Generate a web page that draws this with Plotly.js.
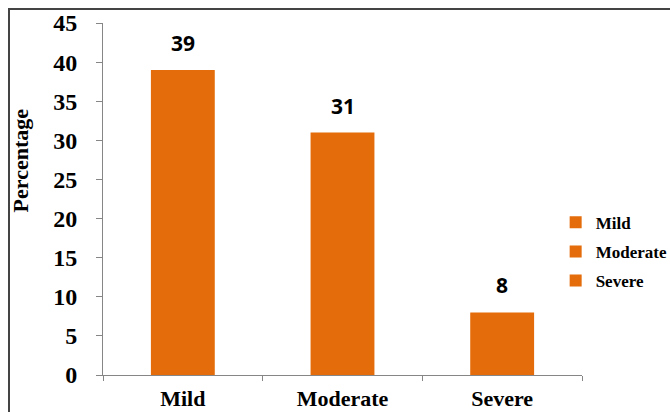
<!DOCTYPE html>
<html>
<head>
<meta charset="utf-8">
<script src="https://cdn.plot.ly/plotly-3.0.1.min.js"></script>
<style>
  html, body { margin: 0; padding: 0; background: #fff; }
  #wrap { position: relative; width: 670px; height: 412px; overflow: hidden; }
  #chart { position: absolute; left: 0; top: 0; width: 670px; height: 412px; }
  #frame { position: absolute; left: 8px; top: 8px; width: 700px; height: 450px;
           border-top: 2px solid #444; border-left: 2px solid #444; pointer-events: none; }
</style>
</head>
<body>
<div id="wrap">
  <div id="chart"></div>
  <div id="frame"></div>
</div>
<script>
const categories = ["Mild", "Moderate", "Severe"];
const values = [39, 31, 8];
const yTicks = [0, 5, 10, 15, 20, 25, 30, 35, 40, 45];
const yTitle = "Percentage";

const barColor = "#E46C0A";
const serif = "Liberation Serif, Times New Roman, serif";

const traces = categories.map((c, i) => ({
  type: "bar",
  x: [c],
  y: [values[i]],
  name: c,
  legendgroup: "g" + i,
  width: 0.4,
  marker: { color: barColor },
  hoverinfo: "none"
}));

const annotations = categories.map((c, i) => ({
  x: c, y: values[i], xref: "x", yref: "y",
  text: String(values[i]),
  showarrow: false, yanchor: "bottom", yshift: 11,
  font: { family: "Open Sans, sans-serif", size: 21, color: "#000", weight: "bold" }
}));
annotations.push({
  xref: "paper", yref: "paper", x: -0.173, y: 0.61,
  xanchor: "center", yanchor: "middle", textangle: -90,
  text: "<b>" + yTitle + "</b>", showarrow: false,
  font: { family: serif, size: 22, color: "#000" }
});

const layout = {
  width: 670, height: 412,
  margin: { l: 103, r: 88, t: 23, b: 37, autoexpand: false },
  paper_bgcolor: "#fff", plot_bgcolor: "#fff",
  barmode: "overlay",
  showlegend: true,
  legend: {
    x: 0.945, xanchor: "left", y: 0.35, yanchor: "middle",
    traceorder: "grouped", tracegroupgap: 4, itemwidth: 30,
    font: { family: serif, size: 17, color: "#000", weight: "bold" },
    bgcolor: "rgba(0,0,0,0)"
  },
  xaxis: {
    type: "category",
    categoryorder: "array", categoryarray: categories,
    showline: true, linecolor: "#868686", linewidth: 1,
    ticks: "outside", tickson: "boundaries", ticklen: 5, tickcolor: "#868686",
    ticklabelstandoff: 4,
    tickfont: { family: serif, size: 22, color: "#000", weight: "bold" },
    showgrid: false, zeroline: false, fixedrange: true
  },
  yaxis: {
    range: [0, 45],
    tickvals: yTicks, ticktext: yTicks.map(String),
    showline: true, linecolor: "#868686", linewidth: 1,
    ticks: "outside", ticklen: 6, tickcolor: "#868686",
    ticklabelstandoff: 14,
    tickfont: { family: serif, size: 24, color: "#000", weight: "bold" },
    showgrid: false, zeroline: false, fixedrange: true
  },
  annotations: annotations
};

Plotly.newPlot("chart", traces, layout, { displayModeBar: false, staticPlot: true });
</script>
</body>
</html>
